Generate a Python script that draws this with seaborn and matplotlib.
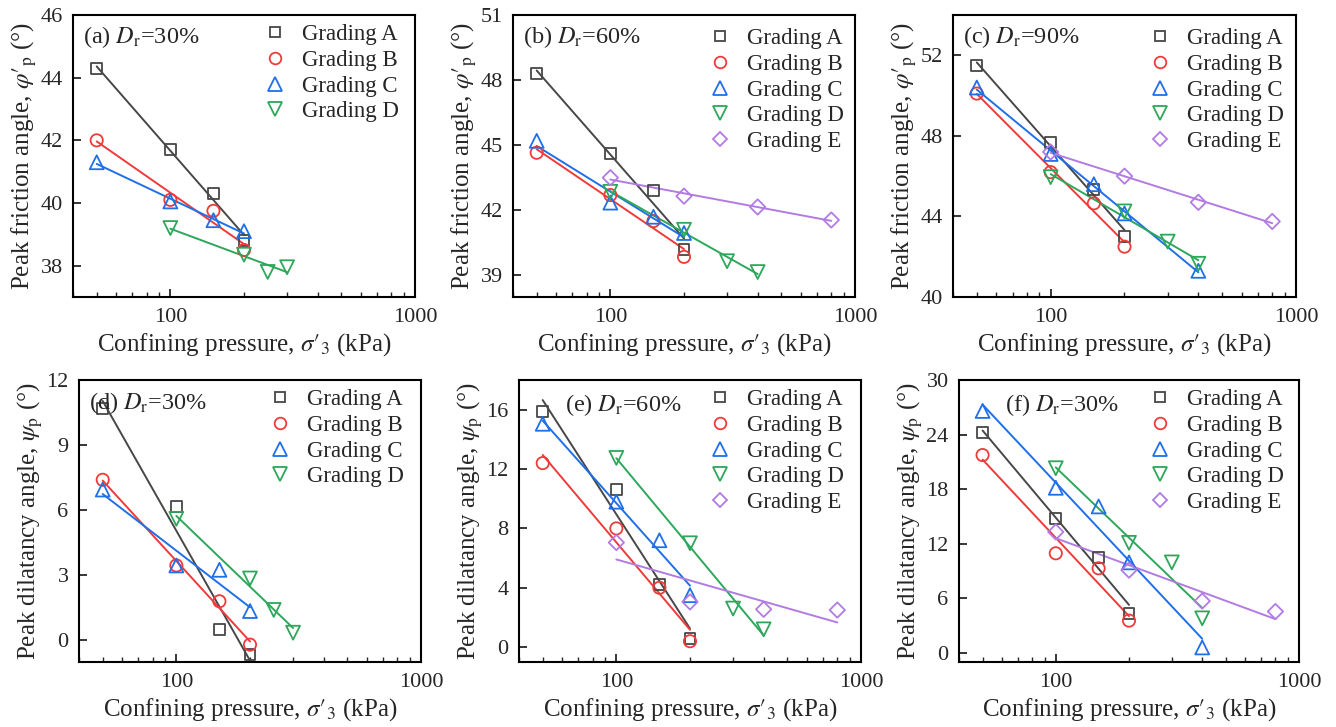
import numpy as np
import matplotlib
matplotlib.use("Agg")
import matplotlib.pyplot as plt
import seaborn as sns
from matplotlib.lines import Line2D
from matplotlib.ticker import FixedLocator, NullFormatter, LogLocator

# ---------------- data ----------------
grades = ["A", "B", "C", "D", "E"]
x_ABC4 = [50, 100, 150, 200]
x_D30 = [100, 200, 250, 300]
x_D = [100, 200, 300, 400]
x_E = [100, 200, 400, 800]
x_C5 = [50, 100, 150, 200, 400]

# (a) peak friction angle, Dr=30%
a_A = [44.3, 41.7, 40.3, 38.8]
a_B = [42.0, 40.1, 39.75, 38.5]
a_C = [41.3, 40.05, 39.45, 39.1]
a_D = [39.2, 38.35, 37.8, 37.95]
# (b) peak friction angle, Dr=60%
b_A = [48.3, 44.6, 42.9, 40.2]
b_B = [44.65, 42.7, 41.5, 39.85]
b_C = [45.2, 42.35, 41.7, 40.95]
b_D = [42.85, 41.1, 39.65, 39.15]
b_E = [43.5, 42.65, 42.15, 41.55]
# (c) peak friction angle, Dr=90%
c_A = [51.5, 47.65, 45.35, 43.0]
c_B = [50.1, 46.2, 44.65, 42.5]
c_C = [50.4, 47.1, 45.6, 44.15, 41.3]
c_D = [45.95, 44.25, 42.75, 41.65]
c_E = [47.2, 46.0, 44.7, 43.75]
# (d) peak dilatancy angle, Dr=30%
d_A = [10.7, 6.15, 0.5, -0.65]
d_B = [7.4, 3.45, 1.8, -0.2]
d_C = [6.95, 3.45, 3.25, 1.35]
d_D = [5.6, 2.85, 1.4, 0.35]
# (e) peak dilatancy angle, Dr=60%
e_A = [15.85, 10.65, 4.2, 0.6]
e_B = [12.4, 8.0, 4.0, 0.4]
e_C = [15.05, 9.8, 7.2, 3.5]
e_D = [12.75, 7.0, 2.6, 1.2]
e_E = [7.05, 3.05, 2.55, 2.5]
# (f) peak dilatancy angle
f_A = [24.25, 14.75, 10.5, 4.35]
f_B = [21.75, 10.95, 9.3, 3.55]
f_C = [26.6, 18.15, 16.1, 9.95, 0.6]
f_D = [20.3, 12.1, 9.95, 3.8]
f_E = [13.3, 9.1, 5.7, 4.55]

panel_titles = ["(a) $D_\\mathrm{r}$=30%", "(b) $D_\\mathrm{r}$=60%", "(c) $D_\\mathrm{r}$=90%",
                "(d) $D_\\mathrm{r}$=30%", "(e) $D_\\mathrm{r}$=60%", "(f) $D_\\mathrm{r}$=30%"]
ylabel_phi = "Peak friction angle, $\\varphi\\prime_\\mathrm{p}$ (\u00b0)"
ylabel_psi = "Peak dilatancy angle, $\\psi_\\mathrm{p}$ (\u00b0)"
xlabel = "Confining pressure, $\\sigma\\prime_3$ (kPa)"
xticks = [100, 1000]

panels = [
    dict(series=[(x_ABC4, a_A), (x_ABC4, a_B), (x_ABC4, a_C), (x_D30, a_D)],
         ylim=(37, 46), yticks=[38, 40, 42, 44, 46], ylabel=ylabel_phi),
    dict(series=[(x_ABC4, b_A), (x_ABC4, b_B), (x_ABC4, b_C), (x_D, b_D), (x_E, b_E)],
         ylim=(38, 51), yticks=[39, 42, 45, 48, 51], ylabel=ylabel_phi),
    dict(series=[(x_ABC4, c_A), (x_ABC4, c_B), (x_C5, c_C), (x_D, c_D), (x_E, c_E)],
         ylim=(40, 54), yticks=[40, 44, 48, 52], ylabel=ylabel_phi),
    dict(series=[(x_ABC4, d_A), (x_ABC4, d_B), (x_ABC4, d_C), (x_D30, d_D)],
         ylim=(-1, 12), yticks=[0, 3, 6, 9, 12], ylabel=ylabel_psi),
    dict(series=[(x_ABC4, e_A), (x_ABC4, e_B), (x_ABC4, e_C), (x_D, e_D), (x_E, e_E)],
         ylim=(-1, 18), yticks=[0, 4, 8, 12, 16], ylabel=ylabel_psi),
    dict(series=[(x_ABC4, f_A), (x_ABC4, f_B), (x_C5, f_C), (x_D, f_D), (x_E, f_E)],
         ylim=(-1, 30), yticks=[0, 6, 12, 18, 24, 30], ylabel=ylabel_psi),
]

# ---------------- style ----------------
sns.set_theme(style="ticks")
plt.rcParams["font.family"] = ["Liberation Serif", "DejaVu Serif"]
plt.rcParams["mathtext.fontset"] = "stix"
plt.rcParams["axes.linewidth"] = 1.5
plt.rcParams["xtick.direction"] = "in"
plt.rcParams["ytick.direction"] = "in"

colors = ["#474747", "#f03a3a", "#1f6fe8", "#2da75a", "#b27be3"]
markers = ["s", "o", "^", "v", "D"]
msizes = [7.8, 8.8, 10.0, 10.0, 7.8]

fig = plt.figure(figsize=(13.36, 7.27), dpi=100)
W, H = 1336, 727
boxes = [(73, 15, 415, 297), (513, 15, 855, 297), (953, 15, 1296, 297),
         (79, 380, 421, 662), (519, 380, 861, 662), (959, 380, 1299, 662)]
label_dx = [0.03, 0.03, 0.03, 0.03, 0.135, 0.135]
label_y = [0.921, 0.921, 0.921, 0.918, 0.911, 0.911]
leg_pad = [(12.9, 5.9), (7.9, 9.9), (8.9, 9.9), (13.9, 5.9), (13.9, 5.9), (11.9, 5.9)]

for i, (p, box) in enumerate(zip(panels, boxes)):
    l, t, r, b = box
    ax = fig.add_axes([l / W, 1 - b / H, (r - l) / W, (b - t) / H])
    handles = []
    for k, (xs, ys) in enumerate(p["series"]):
        xs = np.asarray(xs, float)
        ys = np.asarray(ys, float)
        coef = np.polyfit(np.log10(xs), ys, 1)
        xf = np.array([xs.min(), xs.max()])
        yf = np.polyval(coef, np.log10(xf))
        sns.lineplot(x=xf, y=yf, ax=ax, color=colors[k], lw=1.4, zorder=2)
        sns.scatterplot(x=xs, y=ys, ax=ax, marker=markers[k], s=msizes[k] ** 2,
                        facecolor="none", edgecolor=colors[k], linewidth=1.3, zorder=3)
        handles.append(Line2D([], [], ls="none", marker=markers[k], ms=msizes[k] * 0.95,
                              mfc="none", mec=colors[k], mew=1.3,
                              label=f"Grading {grades[k]}"))
    ax.set_xscale("log")
    ax.set_xlim(40, 1000)
    ax.set_ylim(*p["ylim"])
    ax.xaxis.set_major_locator(FixedLocator(xticks))
    ax.xaxis.set_minor_locator(LogLocator(base=10, subs=np.arange(2, 10)))
    ax.xaxis.set_minor_formatter(NullFormatter())
    ax.set_xticklabels([str(v) for v in xticks])
    ax.set_yticks(p["yticks"])
    ax.tick_params(axis="both", which="major", length=6, width=1.3, labelsize=16,
                   top=False, right=False)
    ax.tick_params(axis="x", which="major", pad=8)
    ax.tick_params(axis="y", which="major", pad=7.5)
    ax.tick_params(axis="x", which="minor", length=3.5, width=1.0, top=False)
    for s in ax.spines.values():
        s.set_linewidth(1.5)
        s.set_color("black")
    ax.set_xlabel(xlabel, fontsize=18, labelpad=3)
    ax.set_ylabel(p["ylabel"], fontsize=18, labelpad=1)
    ax.text(label_dx[i], label_y[i], panel_titles[i], transform=ax.transAxes,
            fontsize=17.5, va="center", ha="left")
    px, py = leg_pad[i]
    ax.legend(handles=handles, loc="upper right", frameon=False, fontsize=16.5,
              handlelength=1.5, handletextpad=0.4, labelspacing=0.2,
              borderaxespad=0.0, borderpad=0.15,
              bbox_to_anchor=(1 - px / (r - l), 1 - py / (b - t)))

fig.savefig("out.png", dpi=100)
